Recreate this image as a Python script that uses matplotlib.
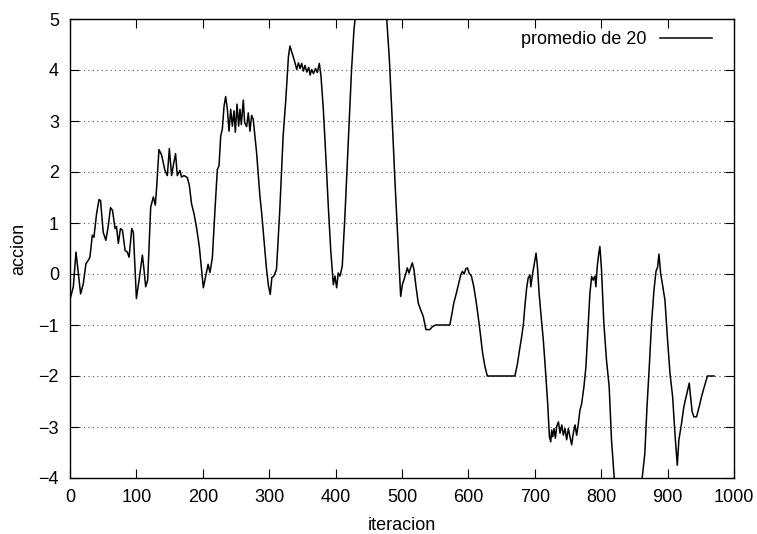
import matplotlib
matplotlib.use("Agg")
import matplotlib.pyplot as plt

plt.rcParams['font.family'] = ['Liberation Sans', 'DejaVu Sans']

iteracion = [0, 5, 9, 11, 16, 20, 24, 28, 30, 33.6, 36, 40, 43.7, 46, 50, 54, 57.7, 61, 64, 67.8, 70, 72.8, 76, 79, 83, 86.3, 89, 93, 95.4,
             100, 104, 109, 111, 114, 117, 121.5, 125.5, 128.5, 130.5, 134, 138, 143, 146.6, 149.6, 153, 155.6, 159, 161.6, 165.6, 168,
             171.7, 176.7, 179.7, 183, 186.8, 190.8, 194.8,
             200.8, 204.8, 208, 210.8, 214.4, 218.4, 221.9, 224.4, 227, 229.4, 232, 234.4, 237, 239.5, 242, 244.5, 247, 249, 251.5,
             254, 256, 258, 261, 263, 266, 268.5, 271, 273.5, 276, 281, 286, 288.6, 292, 296, 299, 301.6, 304, 307, 311, 316, 321,
             325, 329, 331.3, 335, 338, 341.5, 344, 346.5, 349, 351.5, 354, 356.6, 359.6, 361.6, 364, 366.7, 369.7, 372.5, 375.5,
             378, 381.5, 385.5, 389, 392.6,
             396.6, 399, 401.6, 404, 406.6, 410, 414, 419, 424, 427.7, 432, 440, 468, 476, 481, 484.5, 489.5, 494.5, 498, 500.5,
             503, 506, 508, 510.5, 513, 515.5, 518, 521, 524.5, 528, 532, 536, 542, 546, 551, 572, 574.5, 578, 582, 585.5, 588.6,
             591, 593.6, 596, 598.6, 601, 604.5, 608, 612, 616,
             621.5, 625, 628.5, 670, 674, 677, 680.2, 682.7, 685, 687.7, 690, 692.8, 694, 696.7, 699, 701.9, 704, 706.5, 710, 712.8,
             716.4, 719.4, 722, 724, 725.4, 727, 729, 731, 733, 735.6, 738, 740.6, 743, 745.5, 748, 750.5, 753, 755.5, 758, 760.6,
             763, 765.6, 768, 770.6, 774, 777, 780.6, 783, 785.6, 788, 790.5, 792, 794, 796, 798, 800.5, 804, 808, 812, 815.5, 819.6,
             826, 855, 861.7, 865.7, 869, 872.4, 875.8, 879.5, 882.5, 885, 887, 889.5, 892, 893.5, 896, 899.6, 903.6, 907.6, 911,
             914.6, 917, 921, 924.5, 928.6, 932.6, 934.6, 937, 939.6, 943.6, 947.6, 951, 954.6, 957.6, 960, 970]

promedio = [-0.5, -0.25, 0.43, 0.2, -0.39, -0.19, 0.2, 0.28, 0.33, 0.76, 0.72, 1.18, 1.46, 1.44, 0.82, 0.66, 0.95, 1.3, 1.25, 0.89, 0.93, 0.6, 0.89, 0.86, 0.46, 0.43, 0.33, 0.89, 0.82,
            -0.48, -0.12, 0.37, 0.14, -0.25, -0.12, 1.31, 1.51, 1.35, 1.7, 2.44, 2.33, 2.03, 1.93, 2.46, 1.93, 2.13, 2.36, 1.93, 2.03, 1.9,
            1.93, 1.89, 1.74, 1.38, 1.18, 0.89, 0.53,
            -0.27, -0.01, 0.19, 0.03, 0.32, 1.27, 2.05, 2.12, 2.71, 2.84, 3.29, 3.48, 3.23, 2.8, 3.23, 2.9, 3.2, 2.78, 3.33,
            2.9, 3.23, 2.93, 3.41, 2.97, 2.89, 3.16, 2.8, 3.11, 3.03, 2.38, 1.53, 1.2, 0.68, 0.09, -0.24, -0.4, -0.07, -0.04, 0.09, 1.27, 2.71,
            3.42, 4.27, 4.47, 4.31, 4.18, 4.01, 4.14, 4.03, 4.13, 3.98, 4.09, 3.96, 4.05, 3.9, 4.01, 3.93, 4.03, 3.95, 4.13,
            3.88, 3.23, 2.25, 1.33, 0.48,
            -0.21, -0.04, -0.27, 0.02, -0.04, 0.15, 1.13, 2.57, 4.0, 4.8, 5.3, 5.6, 5.6, 5.2, 4.2, 3.23, 1.79, 0.48, -0.44, -0.21,
            -0.11, 0.02, 0.12, 0.02, 0.12, 0.22, 0.09, -0.24, -0.57, -0.7, -0.83, -1.09, -1.09, -1.03, -1.0, -1.0, -0.83, -0.57, -0.37, -0.18, -0.01,
            0.05, 0.0, 0.1, 0.12, 0.02, -0.04, -0.24, -0.57, -0.96,
            -1.56, -1.82, -2.0, -2.0, -1.75, -1.49, -1.23, -1.0, -0.64, -0.28, -0.08, -0.02, -0.25, 0.01, 0.18, 0.41, 0.14, -0.38, -0.9, -1.29,
            -1.95, -2.54, -3.19, -3.29, -3.06, -3.19, -3.03, -3.22, -2.99, -2.9, -3.12, -2.96, -3.16, -3.03, -3.25, -3.03, -3.19, -3.35, -3.12, -2.96,
            -3.16, -2.93, -2.67, -2.54, -2.21, -1.82, -0.97, -0.38, -0.05, -0.12, -0.04, -0.25, 0.14, 0.37, 0.54, 0.08, -0.97, -1.69, -2.21, -3.25, -4.0,
            -4.4, -4.4, -4.0, -3.52, -2.6, -1.82, -0.97, -0.31, 0.05, 0.14, 0.39, 0.01, -0.18, -0.31, -0.51, -1.23, -1.95, -2.41, -3.12,
            -3.75, -3.25, -2.93, -2.6, -2.37, -2.14, -2.41, -2.7, -2.8, -2.8, -2.6, -2.41, -2.24, -2.11, -2.0, -2.0]

x_ticks = [0, 100, 200, 300, 400, 500, 600, 700, 800, 900, 1000]
y_ticks = [-4, -3, -2, -1, 0, 1, 2, 3, 4, 5]
grid_levels = [-3, -2, -1, 0, 1, 2, 3, 4]

fig = plt.figure(figsize=(7.57, 5.34), dpi=100)
ax = fig.add_axes([70/757, 1-478/534, 664/757, 459/534])

ax.plot(iteracion, promedio, color='black', lw=1.1, label='promedio de 20')

ax.set_xlim(0, 1000)
ax.set_ylim(-4, 5)
ax.set_xticks(x_ticks)
ax.set_yticks(y_ticks)
ax.tick_params(direction='in', length=6.5, width=0.8, top=True, right=True,
               labelsize=13)
ax.tick_params(axis='x', pad=8)
ax.tick_params(axis='y', pad=8)

gap = 9/664
for g in grid_levels:
    ax.axhline(g, xmin=gap, xmax=1-gap, color='#555555', lw=0.8,
               linestyle=(0, (1, 3)), zorder=0)

for s in ax.spines.values():
    s.set_linewidth(1.0)

ax.set_xlabel('iteracion', fontsize=13, labelpad=8)
ax.set_ylabel('accion', fontsize=13, labelpad=8)

leg = ax.legend(loc='upper right', frameon=False, markerfirst=False,
                fontsize=13, handlelength=2.9, handletextpad=0.72,
                bbox_to_anchor=(0.983, 0.997), borderaxespad=0.2)

fig.savefig('out.png', dpi=100)
